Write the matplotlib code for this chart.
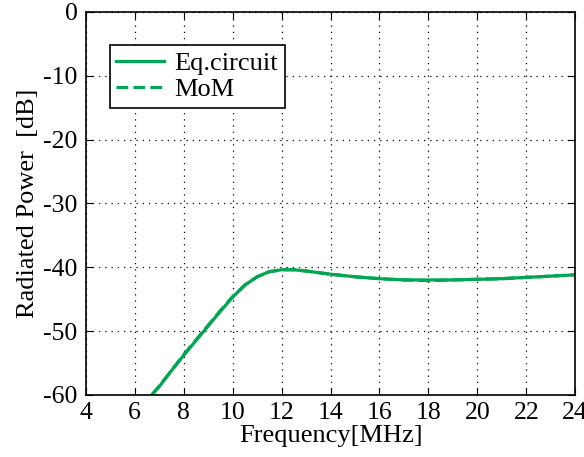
import numpy as np
import matplotlib.pyplot as plt

plt.rcParams['font.family'] = ['Liberation Serif', 'DejaVu Serif']
plt.rcParams['axes.unicode_minus'] = False

freq = [6.7, 7, 7.5, 8, 8.5, 9, 9.5, 10, 10.5, 11, 11.5, 12, 12.5, 13, 14, 15, 16, 17, 18, 19, 20, 21, 22, 23, 24]
eq_circuit = [-60, -58.7, -56.2, -53.8, -51.5, -49.2, -46.9, -44.7, -42.8, -41.5, -40.7, -40.4, -40.4, -40.6, -41.1, -41.5, -41.8, -42.0, -42.0, -42.0, -41.9, -41.8, -41.6, -41.4, -41.2]
mom = [-60, -58.6, -56.2, -53.7, -51.4, -49.1, -46.8, -44.6, -42.8, -41.5, -40.7, -40.4, -40.4, -40.6, -41.1, -41.5, -41.8, -42.0, -42.1, -42.0, -41.9, -41.8, -41.6, -41.4, -41.2]

green = '#00a651'

fig = plt.figure(figsize=(5.84, 4.57), dpi=100)
ax = fig.add_axes([0.147, 0.136, 0.838, 0.838])

ax.plot(freq, eq_circuit, '-', color=green, lw=2.3, label='Eq.circuit')
ax.plot(freq, mom, '--', color=green, lw=2.3, label='MoM')

ax.set_xlim(4, 24)
ax.set_ylim(-60, 0)
ax.set_xticks(np.arange(4, 25, 2))
ax.set_yticks(np.arange(-60, 1, 10))
ax.grid(True, linestyle=(0, (1, 4)), color='k', lw=0.9)
ax.tick_params(direction='in', top=True, right=True, labelsize=18.5, length=5)
ax.tick_params(axis='x', pad=5)
ax.tick_params(axis='y', pad=6)
for s in ax.spines.values():
    s.set_linewidth(1.2)

ax.set_xlabel('Frequency[MHz]', fontsize=19, labelpad=1)
ax.set_ylabel('Radiated Power  [dB]', fontsize=19, labelpad=3)

leg = ax.legend(loc='upper left', bbox_to_anchor=(0.049, 0.914), fontsize=19,
                fancybox=False, framealpha=1, edgecolor='k', handlelength=1.8,
                handletextpad=0.4, borderpad=0.25, labelspacing=0.1, borderaxespad=0)
leg.get_frame().set_linewidth(1.2)

fig.savefig('out.png', dpi=100)
